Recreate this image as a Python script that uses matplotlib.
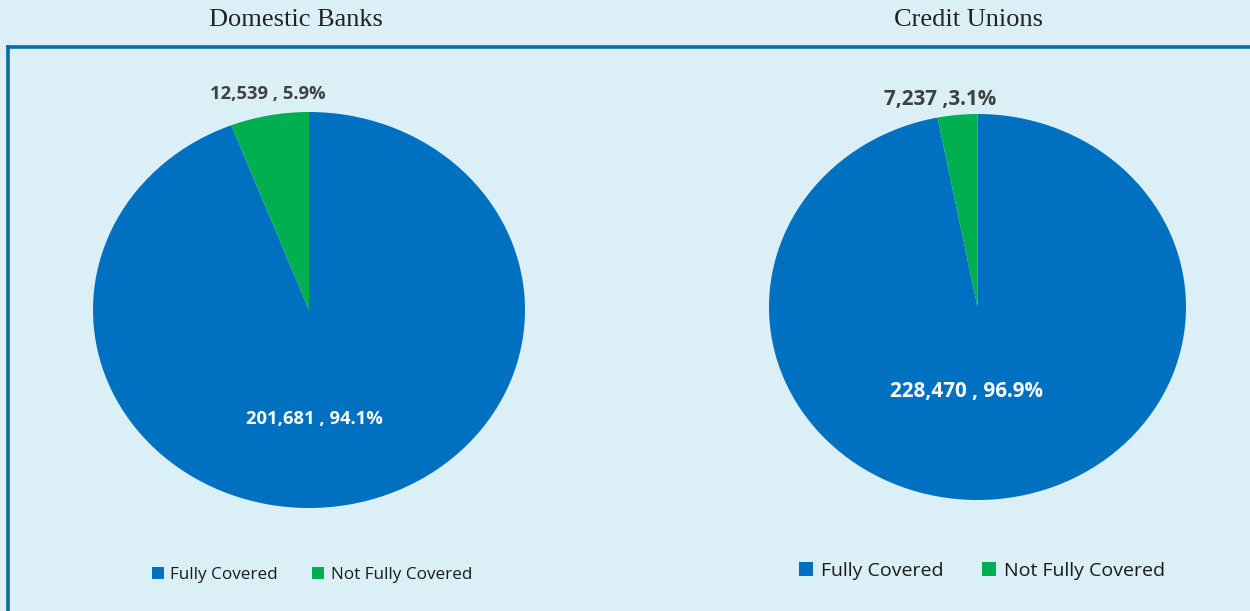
import matplotlib
matplotlib.use("Agg")
import matplotlib.pyplot as plt
from matplotlib.lines import Line2D
from matplotlib.patches import Patch

W, H = 1250, 611

categories = ["Fully Covered", "Not Fully Covered"]
bank_values = [201681, 12539]
bank_pcts = [94.1, 5.9]
cu_values = [228470, 7237]
cu_pcts = [96.9, 3.1]
titles = ["Domestic Banks", "Credit Unions"]

colors = ["#0070C0", "#00B050"]
bg = "#DAEFF6"
frame = "#0B6D9C"

fig = plt.figure(figsize=(W / 100, H / 100), dpi=100, facecolor=bg)


def px_box(x0, y0, x1, y1):
    return [x0 / W, 1 - y1 / H, (x1 - x0) / W, (y1 - y0) / H]


def fx(x):
    return x / W


def fy(y):
    return 1 - y / H


# frame: top and left edges
fig.add_artist(Line2D([fx(8), fx(W + 5)], [fy(47), fy(47)], color=frame, lw=2.6,
                      transform=fig.transFigure))
fig.add_artist(Line2D([fx(8), fx(8)], [fy(47), fy(H + 5)], color=frame, lw=2.6,
                      transform=fig.transFigure))

# Domestic Banks pie
ax1 = fig.add_axes(px_box(93, 112, 525, 508))
ax1.pie(bank_values, colors=colors, startangle=90, counterclock=False,
        wedgeprops=dict(linewidth=0))
ax1.set_aspect("auto")
ax1.set_xlim(-1, 1)
ax1.set_ylim(-1, 1)
ax1.axis("off")

# Credit Unions pie
ax2 = fig.add_axes(px_box(769, 114, 1186, 500))
ax2.pie(cu_values, colors=colors, startangle=90, counterclock=False,
        wedgeprops=dict(linewidth=0))
ax2.set_aspect("auto")
ax2.set_xlim(-1, 1)
ax2.set_ylim(-1, 1)
ax2.axis("off")

# titles
title_font = dict(family="Liberation Serif", fontsize=19, color="#222222",
                  ha="center", va="center")
fig.text(fx(296), fy(20), titles[0], **title_font)
fig.text(fx(968), fy(20), titles[1], **title_font)

# data labels
lab = dict(family="Open Sans", fontweight="bold", ha="center", va="center")
fig.text(fx(314), fy(419), f"{bank_values[0]:,} , {bank_pcts[0]}%", color="white",
         fontsize=13.2, **lab)
fig.text(fx(268), fy(94), f"{bank_values[1]:,} , {bank_pcts[1]}%", color="#404040",
         fontsize=13.2, **lab)
fig.text(fx(967), fy(391), f"{cu_values[0]:,} , {cu_pcts[0]}%", color="white",
         fontsize=14.9, **lab)
fig.text(fx(940), fy(99), f"{cu_values[1]:,} ,{cu_pcts[1]}%", color="#404040",
         fontsize=14.9, **lab)

# legends
handles = [Patch(facecolor=c, edgecolor="none") for c in colors]
leg1 = fig.legend(handles, categories, loc="center", bbox_to_anchor=(fx(312), fy(575)),
                  ncol=2, frameon=False, handlelength=0.7, handleheight=0.7,
                  handletextpad=0.4, columnspacing=2.0,
                  prop=dict(family="Open Sans", size=12.3))
leg2 = fig.legend(handles, categories, loc="center", bbox_to_anchor=(fx(982), fy(571)),
                  ncol=2, frameon=False, handlelength=0.7, handleheight=0.7,
                  handletextpad=0.4, columnspacing=2.0,
                  prop=dict(family="Open Sans", size=14))
for leg in (leg1, leg2):
    for t in leg.get_texts():
        t.set_color("#1a1a1a")

fig.savefig("out.png", dpi=100, facecolor=bg)
